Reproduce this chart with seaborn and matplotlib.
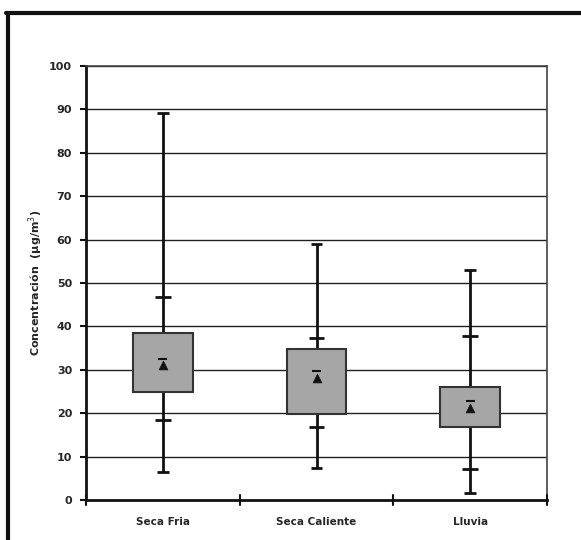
import matplotlib
matplotlib.use("Agg")
import matplotlib.pyplot as plt
import seaborn as sns
import pandas as pd
from matplotlib.lines import Line2D

categories = ["Seca Fria", "Seca Caliente", "Lluvia"]
minimum = [6.5, 7.4, 1.5]
p_low = [18.4, 16.8, 7.1]
q1 = [25.0, 19.8, 16.9]
mean = [31.0, 28.2, 21.2]
q3 = [38.5, 34.8, 26.1]
p_high = [46.8, 37.4, 37.8]
maximum = [89.2, 59.0, 53.0]
yticks = [0, 10, 20, 30, 40, 50, 60, 70, 80, 90, 100]

df = pd.DataFrame({"cat": categories, "min": minimum, "plo": p_low, "q1": q1,
                   "mean": mean, "q3": q3, "phi": p_high, "max": maximum})

sns.set_theme(style="white")
plt.rcParams['font.family'] = ['DejaVu Sans']

fig = plt.figure(figsize=(5.81, 5.4), dpi=100)
ax = fig.add_axes([86/581, 40/540, (547-86)/581, (500-66)/540])

pos = list(range(len(categories)))
# gridlines
for t in yticks[1:]:
    ax.axhline(t, color="#202020", lw=1.0, zorder=0)

# whiskers
ax.vlines(pos, df["min"], df["max"], color="#111111", lw=2.0, zorder=2)
for i in pos:
    for v in (df["min"][i], df["max"][i]):
        ax.hlines(v, i - 0.038, i + 0.038, color="#111111", lw=2.0, zorder=3)
    for v in (df["plo"][i], df["phi"][i]):
        ax.hlines(v, i - 0.05, i + 0.05, color="#111111", lw=2.0, zorder=3)

# boxes
ax.bar(pos, df["q3"] - df["q1"], bottom=df["q1"], width=0.39,
       color="#a6a6a6", edgecolor="#333333", linewidth=1.5, zorder=4)

# mean markers
sns.scatterplot(data=df, x=pos, y="mean", marker="^", s=40, color="#111111",
                edgecolor="#111111", zorder=5, ax=ax, legend=False)
ax.hlines(df["mean"] + 1.6, [p - 0.03 for p in pos], [p + 0.03 for p in pos],
          color="#111111", lw=1.5, zorder=5)

ax.set_xlim(-0.5, 2.5)
ax.set_ylim(0, 100)
ax.set_yticks(yticks)
ax.set_yticklabels([str(t) for t in yticks], fontsize=8, fontweight="bold")
ax.set_xticks(pos)
ax.set_xticklabels(categories, fontsize=7.5, fontweight="bold")
ax.tick_params(axis="x", length=0, pad=12)
ax.tick_params(axis="y", length=4, width=1.5, direction="out", color="#111111", pad=6, left=True)
# category boundary ticks
for b in [-0.5, 0.5, 1.5, 2.5]:
    ax.plot([b, b], [-1.2, 1.2], color="#111111", lw=1.5, clip_on=False, zorder=6)

ax.set_xlabel("")
ax.set_ylabel("Concentración  (µg/m$^3$)", fontsize=8, fontweight="bold", labelpad=3)

for s in ["left", "bottom"]:
    ax.spines[s].set_color("#111111")
    ax.spines[s].set_linewidth(2.0)
for s in ["top", "right"]:
    ax.spines[s].set_color("#444444")
    ax.spines[s].set_linewidth(1.2)

# outer frame lines
fig.add_artist(Line2D([8/581, 8/581], [0, 1 - 13/540], color="#111111", lw=3, transform=fig.transFigure))
fig.add_artist(Line2D([6/581, 1], [1 - 13/540, 1 - 13/540], color="#111111", lw=3, transform=fig.transFigure))

fig.savefig("out.png", dpi=100)
